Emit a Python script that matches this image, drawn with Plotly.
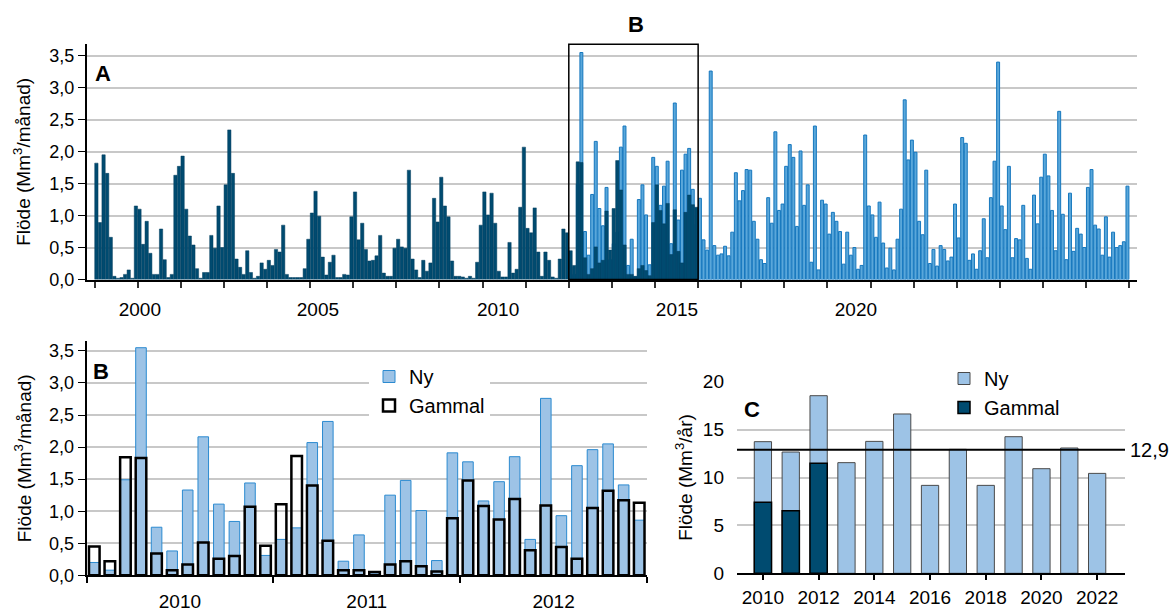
import plotly.graph_objects as go

W, H = 1171, 613
FONT = "Liberation Sans, Arial, sans-serif"

# ---------------- data ----------------
gammal_start_year = 1999
gammal_monthly = [
    # 1999
    1.82, 0.89, 1.95, 1.66, 0.66, 0.05, 0.02, 0.03, 0.08, 0.15, 0.02, 1.15,
    # 2000
    1.10, 0.55, 0.91, 0.41, 0.08, 0.08, 0.79, 0.31, 0.03, 0.08, 1.63, 1.77,
    # 2001
    1.93, 1.10, 0.68, 0.54, 0.17, 0.02, 0.11, 0.11, 0.69, 0.49, 1.15, 0.50,
    # 2002
    1.48, 2.34, 1.66, 0.32, 0.19, 0.08, 0.45, 0.11, 0.02, 0.05, 0.26, 0.16,
    # 2003
    0.30, 0.22, 0.47, 0.43, 0.85, 0.08, 0.03, 0.03, 0.03, 0.03, 0.17, 0.63,
    # 2004
    1.04, 1.38, 0.99, 0.35, 0.07, 0.27, 0.38, 0.03, 0.03, 0.08, 0.07, 0.98,
    # 2005
    1.37, 0.62, 0.88, 0.47, 0.29, 0.30, 0.37, 0.69, 0.10, 0.05, 0.05, 0.49,
    # 2006
    0.63, 0.51, 0.49, 1.71, 0.32, 0.15, 0.03, 0.30, 0.13, 0.26, 1.27, 0.90,
    # 2007
    1.60, 1.15, 0.98, 0.29, 0.05, 0.05, 0.04, 0.02, 0.05, 0.02, 0.27, 0.85,
    # 2008
    1.37, 1.01, 1.35, 0.88, 0.13, 0.04, 0.04, 0.58, 0.10, 0.16, 1.13, 2.07,
    # 2009
    0.80, 0.73, 1.12, 0.43, 0.05, 0.43, 0.30, 0.04, 0.02, 0.32, 0.79, 0.73,
    # 2010
    0.45, 0.22, 1.84, 1.83, 0.34, 0.08, 0.17, 0.51, 0.26, 0.30, 1.07, 0.46,
    # 2011
    1.11, 1.86, 1.40, 0.54, 0.08, 0.08, 0.05, 0.17, 0.22, 0.14, 0.06, 0.89,
    # 2012
    1.48, 1.08, 0.87, 1.19, 0.39, 1.09, 0.44, 0.26, 1.05, 1.32, 1.17, 1.13,
]

ny_start_year = 2010
ny_monthly = [
    # 2010
    0.20, 0.08, 1.49, 3.55, 0.75, 0.38, 1.33, 2.16, 1.11, 0.84, 1.44, 0.31,
    # 2011
    0.56, 0.74, 2.07, 2.40, 0.22, 0.63, 0.04, 1.25, 1.48, 1.01, 0.23, 1.91,
    # 2012
    1.77, 1.16, 1.46, 1.85, 0.56, 2.76, 0.93, 1.71, 1.96, 2.05, 1.41, 0.86,
    # 2013
    1.27, 0.62, 0.46, 3.26, 0.53, 0.38, 0.40, 0.52, 0.37, 0.74, 1.67, 1.23,
    # 2014
    1.39, 1.72, 1.71, 0.91, 0.63, 0.31, 0.25, 1.28, 0.88, 2.31, 1.08, 1.18,
    # 2015
    1.77, 2.11, 1.91, 0.83, 2.01, 1.16, 1.48, 0.27, 2.40, 0.15, 1.24, 1.18,
    # 2016
    0.71, 1.05, 0.91, 0.75, 0.24, 0.74, 0.38, 0.50, 0.16, 0.22, 2.26, 1.15,
    # 2017
    1.01, 0.66, 1.21, 0.57, 0.18, 0.49, 0.15, 0.63, 1.10, 2.81, 1.87, 2.18,
    # 2018
    1.99, 0.91, 0.70, 1.71, 0.25, 0.47, 0.21, 0.53, 0.47, 0.29, 0.35, 1.18,
    # 2019
    0.65, 2.22, 2.13, 0.30, 0.40, 0.16, 0.45, 0.95, 0.34, 1.28, 1.85, 3.40,
    # 2020
    1.15, 0.78, 1.77, 0.34, 0.64, 0.62, 1.16, 0.33, 0.16, 1.32, 0.87, 1.60,
    # 2021
    1.96, 1.62, 1.08, 0.45, 2.63, 1.02, 0.31, 1.35, 0.44, 0.80, 0.71, 0.50,
    # 2022
    1.44, 1.72, 0.85, 0.79, 0.38, 0.98, 0.35, 0.74, 0.50, 0.53, 0.59, 1.46,
]

# zoom period shown in panel B
zoom_years = [2010, 2011, 2012]

# annual totals (panel C)
annual_years = list(range(2010, 2023))
ny_annual = [13.74, 12.66, 18.54, 11.55, 13.77, 16.63, 9.18, 12.94, 9.18, 14.26, 10.92, 13.08, 10.43]
gammal_annual_years = [2010, 2011, 2012]
gammal_annual = [7.41, 6.54, 11.48]
mean_annual = 12.9
mean_label = "12,9"

a_tick_text = ["2000", "2005", "2010", "2015", "2020"]
b_tick_text = ["2010", "2011", "2012"]
c_tick_years = [2010, 2012, 2014, 2016, 2018, 2020, 2022]

# ---------------- helpers ----------------
def month_centers(start_year, n):
    return [start_year + (i + 0.5) / 12 for i in range(n)]

def px_x(p):
    return p / W

def px_y(p):
    return 1 - p / H

gammal_x = month_centers(gammal_start_year, len(gammal_monthly))
ny_x = month_centers(ny_start_year, len(ny_monthly))

# slices for panel B
zs, ze = zoom_years[0], zoom_years[-1] + 1
gb_idx = [i for i, x in enumerate(gammal_x) if zs <= x < ze]
nb_idx = [i for i, x in enumerate(ny_x) if zs <= x < ze]

DARK = "#004b70"
NY_A = "#5aa7da"
NY_A_EDGE = "#1577be"
NY_LIGHT = "#9dc3e6"
NY_LIGHT_EDGE = "#2b8ad0"
GRID = "#c8c8c8"

fig = go.Figure()

# ---- Panel A ----
fig.add_trace(go.Bar(
    x=ny_x, y=ny_monthly, width=0.82 / 12, name="Ny",
    marker=dict(color=NY_A, line=dict(color=NY_A_EDGE, width=1)),
    xaxis="x", yaxis="y", showlegend=False,
))
fig.add_trace(go.Bar(
    x=gammal_x, y=gammal_monthly, width=0.92 / 12, name="Gammal",
    marker=dict(color=DARK, line=dict(color="#003d5c", width=0.5)),
    xaxis="x", yaxis="y", showlegend=False,
))

# ---- Panel B ----
fig.add_trace(go.Bar(
    x=[ny_x[i] for i in nb_idx], y=[ny_monthly[i] for i in nb_idx],
    width=0.68 / 12, name="Ny",
    marker=dict(color=NY_LIGHT, line=dict(color=NY_LIGHT_EDGE, width=1)),
    xaxis="x2", yaxis="y2", legend="legend",
))
fig.add_trace(go.Bar(
    x=[gammal_x[i] for i in gb_idx], y=[gammal_monthly[i] for i in gb_idx],
    width=0.68 / 12, name="Gammal",
    marker=dict(color="rgba(255,255,255,0)", line=dict(color="black", width=2.5)),
    xaxis="x2", yaxis="y2", legend="legend",
))

# ---- Panel C ----
fig.add_trace(go.Bar(
    x=annual_years, y=ny_annual, width=0.62, name="Ny",
    marker=dict(color=NY_LIGHT, line=dict(color="#4a4a4a", width=1)),
    xaxis="x3", yaxis="y3", legend="legend2",
))
fig.add_trace(go.Bar(
    x=gammal_annual_years, y=gammal_annual, width=0.62, name="Gammal",
    marker=dict(color=DARK, line=dict(color="black", width=1.5)),
    xaxis="x3", yaxis="y3", legend="legend2",
))

tick_font = dict(family=FONT, size=18, color="black")
lab_font = dict(family=FONT, size=19, color="black")
title_font = dict(family=FONT, size=19, color="black")

a_range = [1998.817, 2023.18]
year_starts = list(range(1999, 2024))

fig.update_layout(
    width=W, height=H,
    margin=dict(l=0, r=0, t=0, b=0, autoexpand=False),
    paper_bgcolor="white", plot_bgcolor="white",
    barmode="overlay",
    separators=", ",
    font=dict(family=FONT, size=18, color="black"),
    # Panel A
    xaxis=dict(
        domain=[px_x(86.7), px_x(1137)], anchor="y", range=a_range, automargin=False,
        tickmode="array",
        tickvals=[2000.05, 2004.18, 2008.36, 2012.51, 2016.66],
        ticktext=a_tick_text, ticks="", tickfont=lab_font,
        ticklabelstandoff=12,
        showline=True, linecolor="black", linewidth=2, showgrid=False, zeroline=False,
        minor=dict(tickmode="array", tickvals=year_starts, ticks="outside",
                   ticklen=6, tickwidth=1.5, tickcolor="#333", showgrid=False),
    ),
    xaxis4=dict(
        overlaying="x", anchor="y", range=a_range, side="bottom", automargin=False,
        tickmode="array", tickvals=[2000, 2005, 2010, 2015, 2020],
        ticks="outside", ticklen=6, tickwidth=3, tickcolor="black",
        showticklabels=False, showline=False, showgrid=False, zeroline=False,
    ),
    yaxis=dict(
        domain=[px_y(279.5), px_y(44.2)], anchor="x", range=[0, 3.68], automargin=False,
        tickmode="array", tickvals=[0, 0.5, 1, 1.5, 2, 2.5, 3, 3.5], tickformat=".1f",
        ticks="outside", ticklen=7, tickcolor="black", tickfont=tick_font,
        showline=True, linecolor="black", linewidth=1.5,
        showgrid=True, gridcolor=GRID, gridwidth=2, zeroline=False,
        title=dict(text="Flöde (Mm<sup>3</sup>/månad)", font=title_font, standoff=14),
    ),
    # Panel B
    xaxis2=dict(
        domain=[px_x(86.5), px_x(647)], anchor="y2", range=[2010, 2013], automargin=False,
        tickmode="array", tickvals=[2010.5, 2011.5, 2012.5], ticktext=b_tick_text,
        ticks="", tickfont=lab_font, ticklabelstandoff=8,
        showline=True, linecolor="black", linewidth=2, showgrid=False, zeroline=False,
        minor=dict(tickmode="array", tickvals=[2010, 2011, 2012, 2013], ticks="outside",
                   ticklen=6, tickwidth=1.5, tickcolor="black", showgrid=False),
    ),
    yaxis2=dict(
        domain=[px_y(575.3), px_y(341.3)], anchor="x2", range=[0, 3.65], automargin=False,
        tickmode="array", tickvals=[0, 0.5, 1, 1.5, 2, 2.5, 3, 3.5], tickformat=".1f",
        ticks="outside", ticklen=7, tickcolor="black", tickfont=tick_font,
        showline=True, linecolor="black", linewidth=1.5,
        showgrid=True, gridcolor=GRID, gridwidth=2, zeroline=False,
        title=dict(text="Flöde (Mm<sup>3</sup>/månad)", font=title_font, standoff=12),
    ),
    # Panel C
    xaxis3=dict(
        domain=[px_x(737), px_x(1125)], anchor="y3", range=[2009.07, 2023.0], automargin=False,
        tickmode="array", tickvals=c_tick_years, ticks="outside", ticklen=5,
        tickcolor="black", tickwidth=1.5, tickfont=lab_font, ticklabelstandoff=1,
        showline=True, linecolor="black", linewidth=2, showgrid=False, zeroline=False,
    ),
    yaxis3=dict(
        domain=[px_y(573.3), px_y(381.7)], anchor="x3", range=[0, 20], automargin=False,
        tickmode="array", tickvals=[0, 5, 10, 15, 20],
        ticks="", tickfont=lab_font, ticklabelstandoff=12,
        showline=False, showgrid=True, gridcolor=GRID, gridwidth=2, zeroline=False,
        title=dict(text="Flöde (Mm<sup>3</sup>/år)", font=title_font, standoff=5),
    ),
    legend=dict(
        x=px_x(369), y=px_y(357), xanchor="left", yanchor="top",
        bgcolor="white", borderwidth=0, font=dict(family=FONT, size=20, color="black"),
        traceorder="normal", itemclick=False, itemdoubleclick=False,
    ),
    legend2=dict(
        x=px_x(944), y=px_y(359), xanchor="left", yanchor="top",
        bgcolor="white", borderwidth=0, font=dict(family=FONT, size=20, color="black"),
        traceorder="normal", itemclick=False, itemdoubleclick=False,
    ),
    shapes=[
        dict(type="rect", xref="x", yref="y domain", x0=zs, x1=ze, y0=0, y1=1,
             line=dict(color="black", width=1.5), fillcolor="rgba(0,0,0,0)", layer="above"),
        dict(type="line", xref="x3 domain", yref="y3", x0=0, x1=1,
             y0=mean_annual, y1=mean_annual, line=dict(color="black", width=2), layer="above"),
    ],
    annotations=[
        dict(text="<b>A</b>", xref="paper", yref="paper", x=px_x(103), y=px_y(73),
             xanchor="center", yanchor="middle",
             showarrow=False, font=dict(family=FONT, size=22, color="black")),
        dict(text="<b>B</b>", xref="paper", yref="paper", x=px_x(636), y=px_y(25),
             xanchor="center", yanchor="middle",
             showarrow=False, font=dict(family=FONT, size=22, color="black")),
        dict(text="<b>B</b>", xref="paper", yref="paper", x=px_x(101), y=px_y(371),
             xanchor="center", yanchor="middle",
             showarrow=False, font=dict(family=FONT, size=22, color="black")),
        dict(text="<b>C</b>", xref="paper", yref="paper", x=px_x(752), y=px_y(410),
             xanchor="center", yanchor="middle",
             showarrow=False, font=dict(family=FONT, size=22, color="black")),
        dict(text=mean_label, xref="paper", yref="y3", x=px_x(1128), y=mean_annual,
             xanchor="left", yanchor="middle", showarrow=False,
             font=dict(family=FONT, size=20, color="black")),
    ],
)

fig.write_html("out.html")
